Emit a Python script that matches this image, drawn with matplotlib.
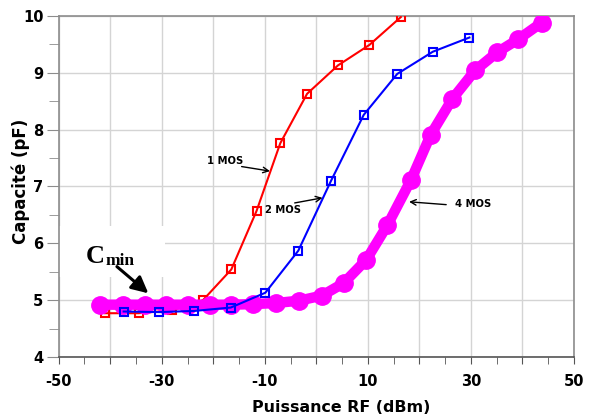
import matplotlib
matplotlib.use('Agg')
import matplotlib.pyplot as plt
from matplotlib.ticker import MultipleLocator, FuncFormatter

# Data
x_1mos = [-41, -34.5, -28, -22, -16.5, -11.6, -7, -1.8, 4.2, 10.3, 16.4]
c_1mos = [4.77, 4.77, 4.82, 5.0, 5.54, 6.57, 7.76, 8.63, 9.13, 9.49, 9.98]

x_2mos = [-37.4, -30.5, -23.7, -16.6, -9.9, -3.5, 2.8, 9.2, 15.7, 22.6, 29.7]
c_2mos = [4.80, 4.79, 4.81, 4.87, 5.13, 5.87, 7.09, 8.26, 8.98, 9.37, 9.62]

x_4mos = [-42, -37.6, -33.3, -29.1, -24.9, -20.7, -16.5, -12.2, -7.8, -3.4, 1.1,
          5.3, 9.7, 13.8, 18.4, 22.2, 26.4, 30.8, 35.1, 39.2, 43.7]
c_4mos = [4.92, 4.92, 4.92, 4.92, 4.92, 4.92, 4.92, 4.93, 4.95, 4.99, 5.08,
          5.30, 5.71, 6.32, 7.12, 7.91, 8.54, 9.04, 9.36, 9.59, 9.88]

x_labels = [-50, -30, -10, 10, 30, 50]

plt.rcParams['font.family'] = ['DejaVu Sans']
plt.rcParams['font.weight'] = 'bold'

fig = plt.figure(figsize=(5.94, 4.19), dpi=100)
ax = fig.add_axes([0.0988, 0.148, 0.8675, 0.814])

ax.plot(x_1mos, c_1mos, color='#ff0000', lw=1.5, marker='s', ms=6,
        mfc='none', mec='#ff0000', mew=1.5, zorder=3)
ax.plot(x_4mos, c_4mos, color='#ff00ff', lw=7.5, marker='o', ms=12.5,
        mfc='#ff00ff', mec='#ff00ff', zorder=4)
ax.plot(x_2mos, c_2mos, color='#0000ff', lw=1.5, marker='s', ms=6,
        mfc='none', mec='#0000ff', mew=1.5, zorder=5)

ax.set_xlim(-50, 50)
ax.set_ylim(4, 10)

ax.xaxis.set_major_locator(MultipleLocator(10))
ax.xaxis.set_minor_locator(MultipleLocator(5))
ax.xaxis.set_major_formatter(FuncFormatter(
    lambda v, p: f'{int(round(v))}' if int(round(v)) in x_labels else ''))
ax.yaxis.set_major_locator(MultipleLocator(1))
ax.yaxis.set_minor_locator(MultipleLocator(0.5))

ax.grid(True, which='major', color='#d4d4d4', lw=1)
ax.set_axisbelow(True)

for s in ax.spines.values():
    s.set_color('#8c8c8c')
    s.set_linewidth(1.2)
ax.spines['bottom'].set_color('#555555')

ax.tick_params(axis='x', which='both', length=5, color='#555555',
               labelsize=10.5, pad=7)
ax.tick_params(axis='y', which='major', length=9, color='#8c8c8c',
               labelsize=10.5, pad=2)
ax.tick_params(axis='y', which='minor', length=7, color='#8c8c8c')

ax.set_xlabel('Puissance RF (dBm)', fontsize=11.4, fontweight='bold')
ax.xaxis.set_label_coords(0.548, -0.126)
ax.set_ylabel('Capacité (pF)', fontsize=12, fontweight='bold')
ax.yaxis.set_label_coords(-0.055, 0.515)

# curve annotations
arrow = dict(arrowstyle='->', color='black', lw=1, shrinkA=0, shrinkB=0)
ax.text(-14.2, 7.44, '1 MOS', fontsize=7.2, ha='right', va='center', zorder=6)
ax.annotate('', xy=(-9.0, 7.27), xytext=(-14.5, 7.35), arrowprops=arrow, zorder=6)
ax.text(-2.9, 6.59, '2 MOS', fontsize=7.2, ha='right', va='center', zorder=6)
ax.annotate('', xy=(1.2, 6.80), xytext=(-4.2, 6.71), arrowprops=arrow, zorder=6)
ax.text(26.9, 6.70, '4 MOS', fontsize=7.2, ha='left', va='center', zorder=6)
ax.annotate('', xy=(18.0, 6.73), xytext=(25.2, 6.68), arrowprops=arrow, zorder=6)

# Cmin label on a white patch
ax.fill_between([-50, -29.3], 5.4, 6.3, color='white', zorder=1.5, lw=0)
ax.text(-44.8, 5.66, 'C', fontsize=19, fontweight='bold',
        family='Liberation Serif', ha='left', va='baseline', zorder=6)
ax.text(-40.9, 5.62, 'min', fontsize=12.5, fontweight='bold',
        family='Liberation Serif', ha='left', va='baseline', zorder=6)
ax.annotate('', xy=(-32.6, 5.12), xytext=(-38.7, 5.59),
            arrowprops=dict(arrowstyle='-|>,head_length=1.0,head_width=0.5',
                            color='black', lw=2.2, shrinkA=0, shrinkB=0),
            zorder=6)

fig.savefig('out.png', dpi=100)
